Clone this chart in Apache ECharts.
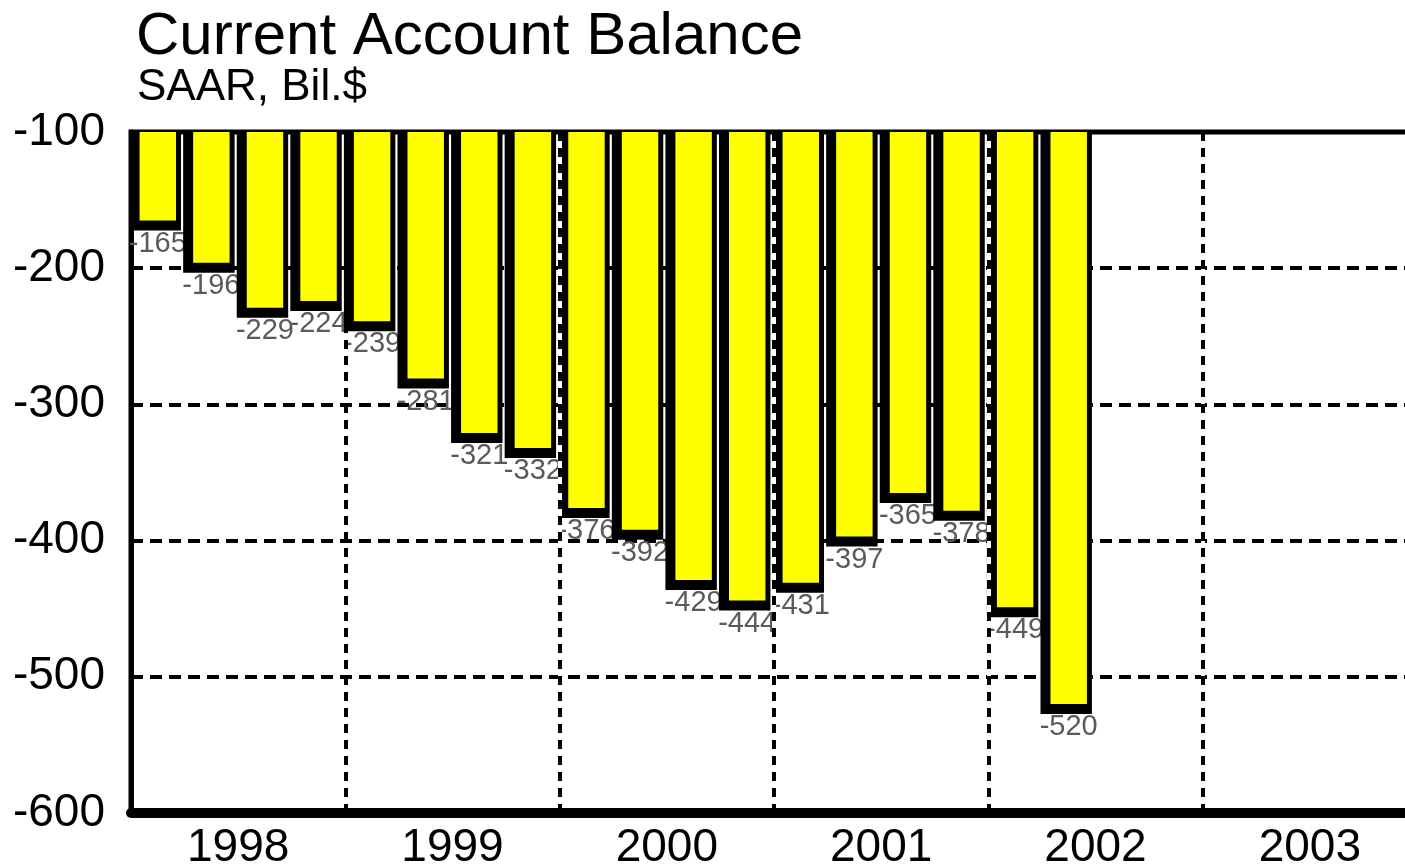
<!DOCTYPE html>
<html>
<head>
<meta charset="utf-8">
<script src="https://cdn.jsdelivr.net/npm/echarts@6/dist/echarts.min.js"></script>
<style>
  html, body { margin: 0; padding: 0; background: #fff; }
  #chart { width: 1405px; height: 864px; }
</style>
</head>
<body>
<div id="chart"></div>
<script>
// quarterly axis 1998Q1 .. 2003Q4, data through 2002Q2
var quarters = [];
var years = ['1998', '1999', '2000', '2001', '2002', '2003'];
years.forEach(function (y) {
    ['Q1', 'Q2', 'Q3', 'Q4'].forEach(function (q) { quarters.push(y + q); });
});

// current account balance, SAAR, bil. $
var balance = [-165, -196, -229, -224, -239, -281, -321, -332, -376, -392,
               -429, -444, -431, -397, -365, -378, -449, -520];

var yTicks = { min: -600, max: -100, step: 100 };

var FONT = '"Liberation Sans", Arial, sans-serif';

function renderBar(params, api) {
    var idx = api.value(0);
    var top = api.coord([idx, yTicks.max]);
    var bot = api.coord([idx, api.value(1)]);
    var band = api.size([1, 0])[0];
    var half = band * 0.34;
    var cx = bot[0];
    var h = bot[1] - top[1];
    return {
        type: 'group',
        children: [
            {   // black shadow / outline
                type: 'rect',
                shape: { x: cx - half - 10, y: top[1], width: half * 2 + 15, height: h + 10 },
                style: { fill: '#000' }
            },
            {
                type: 'rect',
                shape: { x: cx - half, y: top[1], width: half * 2, height: h },
                style: { fill: '#ffff00' }
            },
            {
                type: 'text',
                x: cx,
                y: bot[1] + 23,
                style: {
                    text: String(api.value(1)),
                    fill: '#5a5a5a',
                    font: '29px ' + FONT,
                    align: 'center',
                    verticalAlign: 'middle'
                }
            }
        ]
    };
}

var chart = echarts.init(document.getElementById('chart'));
chart.setOption({
    animation: false,
    backgroundColor: '#fff',
    textStyle: { fontFamily: FONT },
    title: [{
        text: 'Current Account Balance',
        left: 136,
        top: 7,
        padding: 0,
        textStyle: { fontSize: 60, fontWeight: 'normal', color: '#000', fontFamily: FONT }
    }, {
        text: 'SAAR, Bil.$',
        left: 137,
        top: 66,
        padding: 0,
        textStyle: { fontSize: 44, fontWeight: 'normal', color: '#000', fontFamily: FONT }
    }],
    grid: {
        left: 131,
        top: 132,
        width: 1286,
        height: 681,
        outerBoundsMode: 'none',
        containLabel: false,
        show: true,
        borderColor: '#000',
        borderWidth: 5,
        backgroundColor: 'transparent'
    },
    xAxis: [{
        // year labels + white backing for the dashed year dividers
        type: 'category',
        data: years,
        position: 'bottom',
        z: 4,
        axisLine: { show: false },
        axisTick: { show: false },
        axisLabel: { fontSize: 46, color: '#000', margin: 12, fontFamily: FONT },
        splitLine: {
            show: true,
            showMinLine: false,
            interval: function (index) { return index > 0; },
            lineStyle: { color: '#fff', width: 4, type: 'solid' }
        }
    }, {
        type: 'category',
        data: quarters,
        position: 'bottom',
        z: 5,
        axisLine: { show: true, lineStyle: { color: '#000', width: 10 } },
        axisTick: { show: false },
        axisLabel: { show: false },
        splitLine: {
            show: true,
            showMinLine: false,
            interval: 3,
            lineStyle: { color: '#000', width: 4, type: [9, 7] }
        }
    }],
    yAxis: {
        type: 'value',
        min: yTicks.min,
        max: yTicks.max,
        interval: yTicks.step,
        z: 0,
        axisLine: { show: true, lineStyle: { color: '#000', width: 5 } },
        axisTick: { show: false },
        axisLabel: { fontSize: 46, color: '#000', margin: 26, fontFamily: FONT },
        splitLine: {
            show: true,
            showMinLine: false,
            showMaxLine: false,
            lineStyle: { color: '#000', width: 4, type: [12, 7] }
        }
    },
    series: [{
        type: 'custom',
        xAxisIndex: 1,
        renderItem: renderBar,
        z: 2,
        data: balance.map(function (v, i) { return [i, v]; })
    }]
});
</script>
</body>
</html>
